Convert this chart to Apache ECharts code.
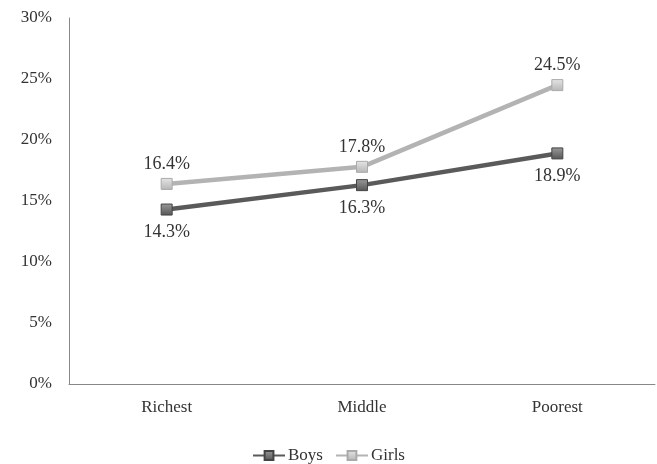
<!DOCTYPE html>
<html><head><meta charset="utf-8">
<script src="https://cdn.jsdelivr.net/npm/echarts@6/dist/echarts.min.js"></script>
<style>html,body{margin:0;padding:0;background:#fff}#c{width:657px;height:464px}</style>
</head><body><div id="c"></div>
<script>
const categories = ['Richest', 'Middle', 'Poorest'];
const boys = [14.3, 16.3, 18.9];
const girls = [16.4, 17.8, 24.5];
const yTicks = [0, 5, 10, 15, 20, 25, 30];

const font = 'Liberation Serif';
const chart = echarts.init(document.getElementById('c'));
function sq(c1, c2) {
  return new echarts.graphic.LinearGradient(0, 0, 0, 1, [{offset: 0, color: c1}, {offset: 1, color: c2}]);
}
chart.setOption({
  animation: false,
  textStyle: {fontFamily: font},
  grid: {left: 69, right: 2, top: 18, bottom: 80},
  legend: {
    bottom: -5, left: 'center', itemGap: 12, itemWidth: 32, itemHeight: 11,
    textStyle: {fontFamily: font, fontSize: 17, color: '#333', padding: [0, 0, 0, -2]},
    data: ['Boys', 'Girls']
  },
  xAxis: {
    type: 'category', data: categories, boundaryGap: true,
    axisLine: {lineStyle: {color: '#888', width: 1}},
    axisTick: {show: false},
    axisLabel: {fontFamily: font, fontSize: 17, color: '#333', margin: 15}
  },
  yAxis: {
    type: 'value', min: 0, max: 30, interval: 5,
    axisLine: {show: true, lineStyle: {color: '#888', width: 1}},
    axisTick: {show: false},
    splitLine: {show: false},
    axisLabel: {fontFamily: font, fontSize: 17, color: '#333', margin: 17, formatter: v => v + '%'}
  },
  series: [
    {
      name: 'Boys', type: 'line', data: boys,
      symbol: 'rect', symbolSize: 11,
      lineStyle: {color: '#5a5a5a', width: 4.5},
      itemStyle: {color: sq('#9a9a9a', '#555'), borderColor: '#444', borderWidth: 1},
      label: {show: true, position: 'bottom', distance: 8, fontFamily: font, fontSize: 18, color: '#333', formatter: p => p.value.toFixed(1) + '%'}
    },
    {
      name: 'Girls', type: 'line', data: girls,
      symbol: 'rect', symbolSize: 11,
      lineStyle: {color: '#b3b3b3', width: 4.5},
      itemStyle: {color: sq('#e6e6e6', '#b5b5b5'), borderColor: '#aaa', borderWidth: 1},
      label: {show: true, position: 'top', distance: 5, fontFamily: font, fontSize: 18, color: '#333', formatter: p => p.value.toFixed(1) + '%'}
    }
  ]
});
</script></body></html>
